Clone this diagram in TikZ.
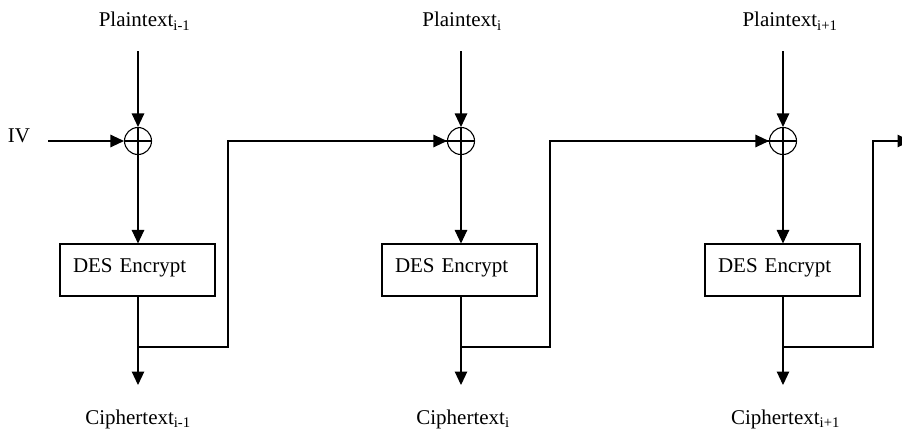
\documentclass[tikz,border=0pt]{standalone}
\usepackage{fontspec}
\setmainfont{Liberation Serif}
\usetikzlibrary{arrows.meta,calc}
\begin{document}
\begin{tikzpicture}[x=1pt,y=-1pt,
  font=\fontsize{21}{24}\selectfont,
  wire/.style={line width=1.1pt},
  arr/.style={wire,-{Triangle[length=13.5pt,width=12.5pt]}},
  xorgate/.style={circle,draw,line width=1.1pt,minimum size=27pt,inner sep=0pt,
    path picture={\draw[line width=1.1pt] (path picture bounding box.north) -- (path picture bounding box.south)
      (path picture bounding box.west) -- (path picture bounding box.east);}},
  encbox/.style={draw,line width=1.1pt,minimum width=155pt,minimum height=52pt,
    text width=129pt,align=left,inner xsep=13pt,inner ysep=0pt,
    text height=12pt,text depth=8pt},
  lbl/.style={inner sep=0pt,anchor=base}]
\clip (0,0) rectangle (902,431);
\fill[white] (0,0) rectangle (902,431);

% column 1
\node[lbl] (p1) at (144.5,27) {Plaintext\textsubscript{i-1}};
\node[xorgate] (x1) at (138,141) {};
\node[lbl] (iv) at (19,142) {IV};
\coordinate (ivs) at (48,141);
\coordinate (pt1) at (138,51);
\node[encbox] (e1) at (137.5,270) {DES Encrypt};
\coordinate (ct1) at (138,385);
\node[lbl] (c1) at (138,424) {Ciphertext\textsubscript{i-1}};
\coordinate (b1) at (138,347);
\coordinate (r1) at (228,347);

% column 2
\node[lbl] (p2) at (462,27) {Plaintext\textsubscript{i}};
\node[xorgate] (x2) at (461,141) {};
\coordinate (pt2) at (461,51);
\node[encbox] (e2) at (459.5,270) {DES Encrypt};
\coordinate (ct2) at (461,385);
\node[lbl] (c2) at (463,424) {Ciphertext\textsubscript{i}};
\coordinate (b2) at (461,347);
\coordinate (r2) at (550,347);

% column 3
\node[lbl] (p3) at (790,27) {Plaintext\textsubscript{i+1}};
\node[xorgate] (x3) at (783,141) {};
\coordinate (pt3) at (783,51);
\node[encbox] (e3) at (782.5,270) {DES Encrypt};
\coordinate (ct3) at (783,385);
\node[lbl] (c3) at (785.5,424) {Ciphertext\textsubscript{i+1}};
\coordinate (b3) at (783,347);
\coordinate (r3) at (873,347);
\coordinate (out) at (911,141);

% connectors
\draw[arr] (ivs) -- (x1.west);
\foreach \i/\nx in {1/x2,2/x3,3/out}{
  \draw[arr] (pt\i) -- (x\i.north);
  \draw[arr] (x\i.south) -- (x\i |- e\i.north);
  \draw[arr] (x\i |- e\i.south) -- (ct\i);
  \draw[wire] (b\i) -- (r\i) -- (r\i |- \nx.west) -- (\nx.west);
  \draw[arr] ($(\nx.west)-(1,0)$) -- (\nx.west);
}
\end{tikzpicture}
\end{document}
